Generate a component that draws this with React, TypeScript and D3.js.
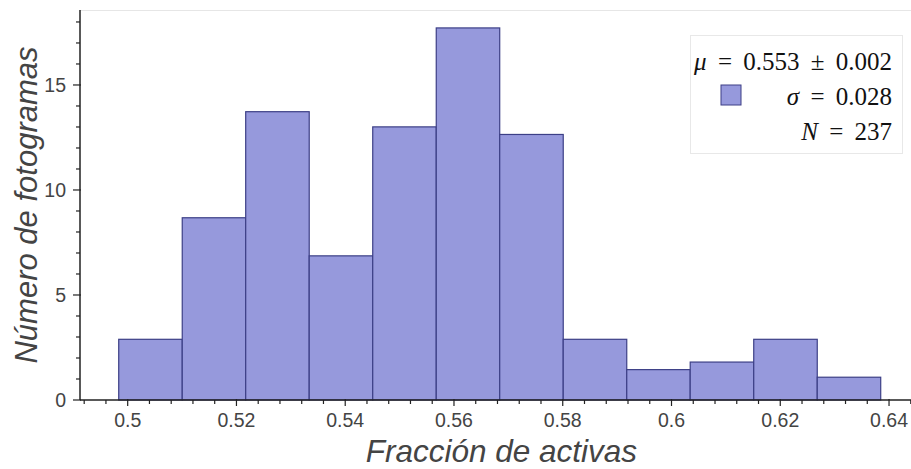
import React, { useEffect, useRef } from 'react';
import * as d3 from 'd3';

// Bin edges of the histogram (fracción de activas)
const BIN_EDGES = [
  0.49835, 0.51003, 0.5217, 0.53338, 0.54506, 0.55674, 0.56841,
  0.58009, 0.59177, 0.60344, 0.61512, 0.6268, 0.63847,
];
// Frames per bin (total N = 237), plotted as density
const BIN_COUNTS = [8, 24, 38, 19, 36, 49, 35, 8, 4, 5, 8, 3];

const X_TICKS = [0.5, 0.52, 0.54, 0.56, 0.58, 0.6, 0.62, 0.64];
const Y_TICKS = [0, 5, 10, 15];

// symbol (italic) + rest of the line
const LEGEND_LINES: [string, string][] = [
  ['μ', ' \u2009=\u2009 0.553 \u2009±\u2009 0.002'],
  ['σ', ' \u2009=\u2009 0.028'],
  ['N', ' \u2009=\u2009 237'],
];

const FILL = '#9699dc';
const EDGE = '#3c3f86';
const TEXT = '#444';
const SANS = 'Liberation Sans, Arial, sans-serif';

export default function App() {
  const svgRef = useRef<SVGSVGElement>(null);
  const width = 911;
  const height = 469;

  useEffect(() => {
    if (!svgRef.current) return;
    const svg = d3.select(svgRef.current);
    svg.selectAll('*').remove();

    const margin = { top: 10, right: 0, bottom: 69, left: 80 };
    const x = d3.scaleLinear().domain([0.49123, 0.64404]).range([margin.left, width - margin.right]);
    const y = d3.scaleLinear().domain([0, 18.57]).range([height - margin.bottom, margin.top]);

    const total = d3.sum(BIN_COUNTS);
    const bins = BIN_COUNTS.map((c, i) => {
      const x0 = BIN_EDGES[i];
      const x1 = BIN_EDGES[i + 1];
      return { x0, x1, density: c / (total * (x1 - x0)) };
    });

    // light frame on top
    svg.append('line')
      .attr('x1', margin.left).attr('x2', width)
      .attr('y1', margin.top + 0.5).attr('y2', margin.top + 0.5)
      .attr('stroke', '#e6e6e6').attr('stroke-width', 1);

    // bars
    svg.append('g')
      .selectAll('rect')
      .data(bins)
      .enter()
      .append('rect')
      .attr('x', d => x(d.x0))
      .attr('y', d => y(d.density))
      .attr('width', d => x(d.x1) - x(d.x0))
      .attr('height', d => y(0) - y(d.density))
      .attr('fill', FILL)
      .attr('stroke', EDGE)
      .attr('stroke-width', 1.2);

    // x axis
    const xMinor = d3.range(0.492, 0.6441, 0.004).filter(v => !X_TICKS.some(t => Math.abs(t - v) < 1e-6));
    const gx = svg.append('g').attr('transform', `translate(0,${y(0)})`);
    gx.append('line')
      .attr('x1', margin.left).attr('x2', width)
      .attr('stroke', '#222').attr('stroke-width', 1.5);
    gx.selectAll('.minor').data(xMinor).enter().append('line')
      .attr('x1', d => x(d)).attr('x2', d => x(d))
      .attr('y1', 0).attr('y2', 4)
      .attr('stroke', '#222').attr('stroke-width', 1.2);
    gx.selectAll('.major').data(X_TICKS).enter().append('line')
      .attr('x1', d => x(d)).attr('x2', d => x(d))
      .attr('y1', -1).attr('y2', 6)
      .attr('stroke', '#222').attr('stroke-width', 1.2);
    gx.selectAll('text').data(X_TICKS).enter().append('text')
      .attr('x', d => x(d))
      .attr('y', 27)
      .attr('text-anchor', 'middle')
      .style('font-family', SANS)
      .style('font-size', '19.5px')
      .style('fill', TEXT)
      .text(d => d3.format('')(d));

    // y axis
    const yMinor = d3.range(0, 19, 1).filter(v => !Y_TICKS.includes(v));
    const gy = svg.append('g').attr('transform', `translate(${margin.left},0)`);
    gy.append('line')
      .attr('y1', margin.top).attr('y2', y(0))
      .attr('stroke', '#222').attr('stroke-width', 1.5);
    gy.selectAll('.minor').data(yMinor).enter().append('line')
      .attr('x1', -4).attr('x2', 0)
      .attr('y1', d => y(d)).attr('y2', d => y(d))
      .attr('stroke', '#222').attr('stroke-width', 1.2);
    gy.selectAll('.major').data(Y_TICKS).enter().append('line')
      .attr('x1', -7).attr('x2', 1)
      .attr('y1', d => y(d)).attr('y2', d => y(d))
      .attr('stroke', '#222').attr('stroke-width', 1.2);
    gy.selectAll('text').data(Y_TICKS).enter().append('text')
      .attr('x', -14)
      .attr('y', d => y(d))
      .attr('dy', '0.36em')
      .attr('text-anchor', 'end')
      .style('font-family', SANS)
      .style('font-size', '19.5px')
      .style('fill', TEXT)
      .text(d => d);

    // axis labels
    svg.append('text')
      .attr('x', (x(0.5) + x(0.64)) / 2 - 7)
      .attr('y', 462)
      .attr('text-anchor', 'middle')
      .style('font-family', SANS)
      .style('font-style', 'italic')
      .style('font-size', '31.5px')
      .style('fill', TEXT)
      .text('Fracción de activas');

    svg.append('text')
      .attr('transform', `translate(37,${(margin.top + y(0)) / 2}) rotate(-90)`)
      .attr('text-anchor', 'middle')
      .style('font-family', SANS)
      .style('font-style', 'italic')
      .style('font-size', '31px')
      .style('fill', TEXT)
      .text('Número de fotogramas');

    // legend
    const lg = svg.append('g');
    lg.append('rect')
      .attr('x', 690.5).attr('y', 35.5)
      .attr('width', 212).attr('height', 118)
      .attr('fill', 'white').attr('fill-opacity', 0.8)
      .attr('stroke', '#e8e8e8');
    lg.append('rect')
      .attr('x', 721).attr('y', 85)
      .attr('width', 20).attr('height', 20)
      .attr('fill', FILL).attr('stroke', EDGE).attr('stroke-width', 1);
    const lineText = lg.selectAll('text').data(LEGEND_LINES).enter().append('text')
      .attr('x', 892)
      .attr('y', (_d, i) => 70 + i * 35)
      .attr('text-anchor', 'end')
      .style('font-family', 'Liberation Serif, DejaVu Serif, serif')
      .style('font-size', '25px')
      .style('fill', '#111');
    lineText.each(function (d) {
      const t = d3.select(this);
      t.append('tspan').style('font-style', 'italic').text(d[0]);
      t.append('tspan').text(d[1]);
    });
  }, []);

  return (
    <svg
      ref={svgRef}
      width={width}
      height={height}
      style={{ position: 'absolute', left: 0, top: 0, background: 'white' }}
    />
  );
}
